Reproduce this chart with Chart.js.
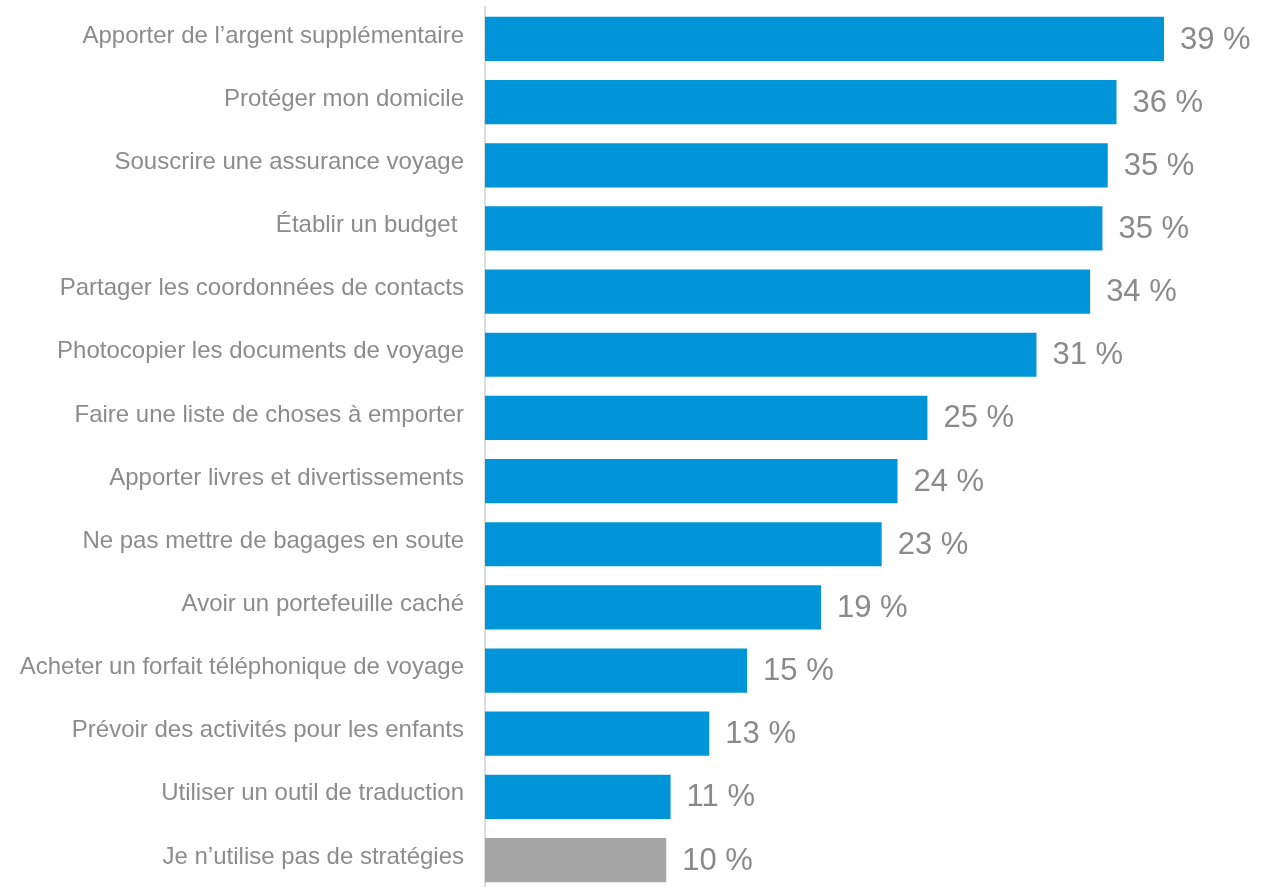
<!DOCTYPE html>
<html>
<head>
<meta charset="utf-8">
<script src="https://cdn.jsdelivr.net/npm/chart.js@4/dist/chart.umd.min.js"></script>
<style>
html,body{margin:0;padding:0;background:#fff;overflow:hidden;}
canvas{display:block;}
</style>
</head>
<body>
<canvas id="c" width="1267" height="900"></canvas>
<script>
const categories = [
  "Apporter de l\u2019argent supplémentaire",
  "Protéger mon domicile",
  "Souscrire une assurance voyage",
  "Établir un budget ",
  "Partager les coordonnées de contacts",
  "Photocopier les documents de voyage",
  "Faire une liste de choses à emporter",
  "Apporter livres et divertissements",
  "Ne pas mettre de bagages en soute",
  "Avoir un portefeuille caché",
  "Acheter un forfait téléphonique de voyage",
  "Prévoir des activités pour les enfants",
  "Utiliser un outil de traduction",
  "Je n\u2019utilise pas de stratégies"
];
const values = [38.6, 35.9, 35.4, 35.1, 34.4, 31.35, 25.15, 23.45, 22.55, 19.1, 14.9, 12.75, 10.55, 10.3];
const valueLabels = ["39 %", "36 %", "35 %", "35 %", "34 %", "31 %", "25 %", "24 %", "23 %", "19 %", "15 %", "13 %", "11 %", "10 %"];
const barColors = values.map((v, i) => i === values.length - 1 ? "#a5a5a5" : "#0094d8");

const labelPlugin = {
  id: "valueLabels",
  afterDatasetsDraw(chart) {
    const ctx = chart.ctx;
    const meta = chart.getDatasetMeta(0);
    ctx.save();
    ctx.font = "31px 'Liberation Sans', Arial, sans-serif";
    ctx.fillStyle = "#8a8a8a";
    ctx.textAlign = "left";
    ctx.textBaseline = "middle";
    meta.data.forEach((el, i) => {
      ctx.fillText(valueLabels[i], el.x + 16, el.y + 1);
    });
    ctx.restore();
  }
};

new Chart(document.getElementById("c"), {
  type: "bar",
  data: {
    labels: categories,
    datasets: [{
      data: values,
      backgroundColor: barColors,
      borderWidth: 0,
      barPercentage: 0.7,
      categoryPercentage: 1.0
    }]
  },
  options: {
    indexAxis: "y",
    responsive: false,
    animation: false,
    devicePixelRatio: 1,
    layout: { padding: { top: 7.4, bottom: 8.4, left: 0, right: 8 } },
    plugins: { legend: { display: false }, tooltip: { enabled: false } },
    scales: {
      x: {
        display: false,
        min: 0,
        max: 44
      },
      y: {
        afterFit(scale) {
          scale.width = 485;
          scale.paddingTop = 0;
          scale.paddingBottom = 0;
        },
        grid: { display: false, drawTicks: false },
        border: { display: true, color: "#dcdcdc", width: 2 },
        ticks: {
          color: "#8c8c8c",
          padding: 21,
          labelOffset: -3,
          font: { family: "'Liberation Sans', Arial, sans-serif", size: 24 }
        }
      }
    }
  },
  plugins: [labelPlugin]
});
</script>
</body>
</html>
